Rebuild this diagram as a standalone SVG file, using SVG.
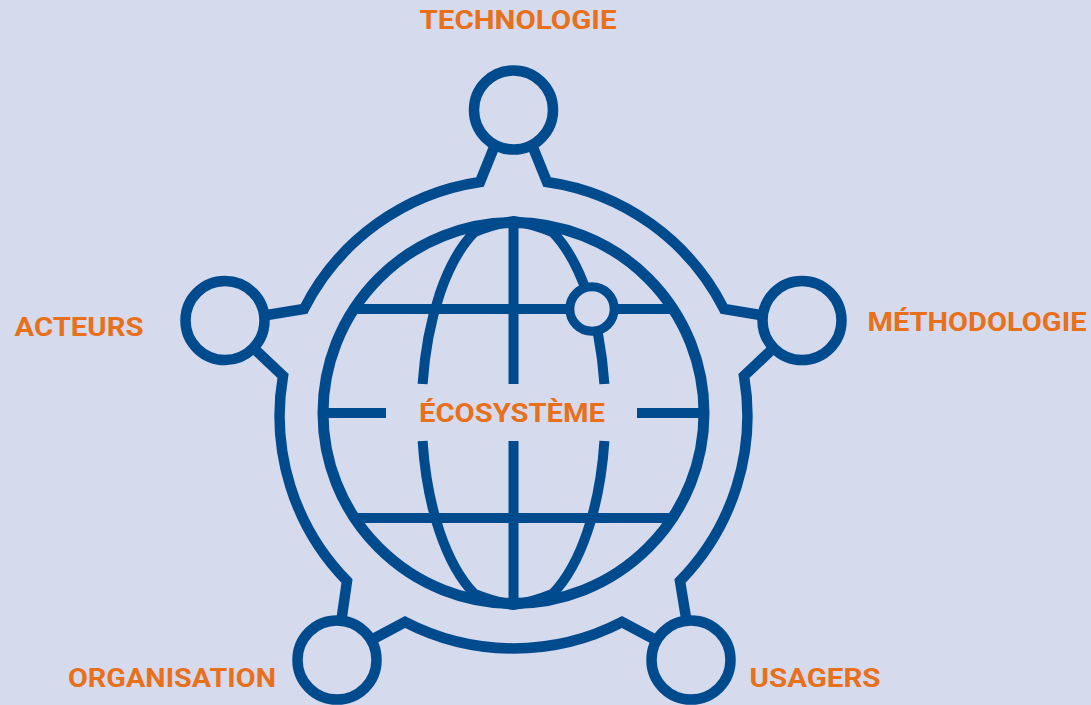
<svg xmlns="http://www.w3.org/2000/svg" width="1091" height="705" viewBox="0 0 1091 705">
<style>
.l{fill:none;stroke:#004a8e;stroke-width:10.5}
.g{fill:none;stroke:#004a8e;stroke-width:10}
.n{fill:#d6daed;stroke:#004a8e;stroke-width:10.5}
.t{font-family:"Roboto","Liberation Sans",sans-serif;font-weight:700;font-size:26px;fill:#e8701a;text-anchor:middle}
</style>
<rect width="1091" height="705" fill="#d6daed"/>
<g id="connectors">
<path class="l" d="M497 140L480 182A236 236 0 0 0 304 309L255 317M245 340L283 376A236 236 0 0 0 347 581L340 630M360 646L405 622A236 236 0 0 0 622 622L667 646M688 630L680 581A236 236 0 0 0 744 376L782 340M772 317L724 309A236 236 0 0 0 547 182L530 140"/>
</g>
<g id="globe">
<circle cx="513.5" cy="413" r="190.5" fill="none" stroke="#004a8e" stroke-width="11"/>
<path class="g" d="M513.5 222V384M513.5 441V604M328 413H386M637 413H700M354 309H673M354 518H673"/>
<path class="g" d="M422.6 384A92 200 0 0 1 474.5 232Q494 224 513.5 221Q533 224 552.5 232A92 200 0 0 1 604.4 384M422.6 441A92 200 0 0 0 474.5 594Q494 602 513.5 605Q533 602 552.5 594A92 200 0 0 0 604.4 441"/>
<circle cx="592" cy="309" r="22.2" fill="#d6daed" stroke="#004a8e" stroke-width="9"/>
<text class="t" x="512" y="422" textLength="186" lengthAdjust="spacingAndGlyphs">ÉCOSYSTÈME</text>
</g>
<g id="technologie"><circle class="n" cx="513.5" cy="110" r="39.5"/><text class="t" x="518" y="29" textLength="197" lengthAdjust="spacingAndGlyphs">TECHNOLOGIE</text></g>
<g id="acteurs"><circle class="n" cx="225" cy="320.5" r="39.5"/><text class="t" x="79" y="336" textLength="129" lengthAdjust="spacingAndGlyphs">ACTEURS</text></g>
<g id="methodologie"><circle class="n" cx="802" cy="320.5" r="39.5"/><text class="t" x="977" y="331" textLength="219" lengthAdjust="spacingAndGlyphs">MÉTHODOLOGIE</text></g>
<g id="organisation"><circle class="n" cx="337" cy="660" r="39.5"/><text class="t" x="172" y="687" textLength="208" lengthAdjust="spacingAndGlyphs">ORGANISATION</text></g>
<g id="usagers"><circle class="n" cx="691" cy="660" r="39.5"/><text class="t" x="815" y="687" textLength="131" lengthAdjust="spacingAndGlyphs">USAGERS</text></g>
</svg>
